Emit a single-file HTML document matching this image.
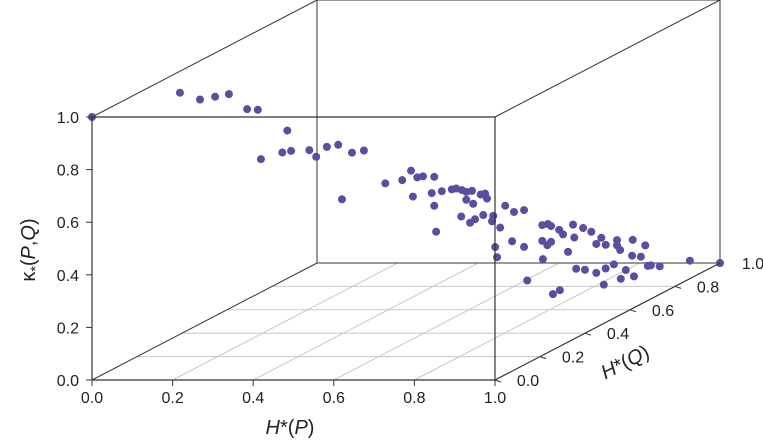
<!DOCTYPE html>
<html><head><meta charset="utf-8"><style>
html,body{margin:0;padding:0;background:#fff;}
svg{display:block;font-family:"Liberation Sans",Arial,sans-serif;}
</style></head><body>
<svg id="chart" width="763" height="442" viewBox="0 0 763 442"></svg>
<script>
const xTicks=[0,0.2,0.4,0.6,0.8,1.0];
const yTicks=[0,0.2,0.4,0.6,0.8,1.0];
const zTicks=[0,0.2,0.4,0.6,0.8,1.0];
const tickLabels=["0.0","0.2","0.4","0.6","0.8","1.0"];
const hP=[0,.14,.172,.196,.218,.247,.264,.311,.269,.303,.317,.346,.357,.374,.392,.414,.433,.398,.467,.494,.508,.518,.527,.545,.511,.541,.557,.573,.58,.589,.596,.605,.619,.626,.629,.545,.596,.607,.588,.61,.623,.639,.658,.672,.688,.548,.602,.637,.65,.717,.726,.731,.766,.782,.744,.75,.768,.795,.811,.836,.861,.881,.645,.688,.717,.725,.731,.758,.803,.818,.836,.841,.86,.874,.89,.904,.952,1,.718,.771,.803,.785,.818,.831,.85,.863,.885,.693,.815,.842,.734,.745,.669,.642];
const hQ=[0,.14,.172,.196,.218,.247,.264,.311,.269,.303,.317,.346,.357,.374,.392,.414,.433,.398,.467,.494,.508,.518,.527,.545,.511,.541,.557,.573,.58,.589,.596,.605,.619,.626,.629,.545,.596,.607,.588,.61,.623,.639,.658,.672,.688,.548,.602,.637,.65,.717,.726,.731,.766,.782,.744,.75,.768,.795,.811,.836,.861,.881,.645,.688,.717,.725,.731,.758,.803,.818,.836,.841,.86,.874,.89,.904,.952,1,.718,.771,.803,.785,.818,.831,.85,.863,.885,.693,.815,.842,.734,.745,.669,.642];
const kappa=[1,1.03,.99,.99,.99,.92,.91,.81,.72,.73,.73,.72,.69,.72,.72,.68,.68,.51,.54,.54,.57,.54,.54,.53,.47,.47,.47,.47,.47,.46,.45,.45,.43,.43,.41,.42,.42,.40,.36,.34,.35,.34,.37,.34,.34,.32,.33,.32,.29,.27,.27,.26,.25,.23,.24,.22,.20,.21,.18,.16,.15,.12,.18,.20,.21,.19,.20,.15,.16,.15,.14,.12,.09,.08,.04,.03,.03,0,.14,.08,.05,.07,.06,.07,.04,.01,.04,.07,0,.01,0,.01,.23,.22];

const NS="http://www.w3.org/2000/svg";
const svg=document.getElementById('chart');
function px(x,y,z){return [92+403*x+225*y, 380-263*z-117*y];}
function mk(tag,attrs,parent){const e=document.createElementNS(NS,tag);for(const k in attrs)e.setAttribute(k,attrs[k]);(parent||svg).appendChild(e);return e;}
function line(a,b,stroke,w,name){const e=mk('line',{x1:a[0],y1:a[1],x2:b[0],y2:b[1],stroke:stroke,'stroke-width':w});


return e;}
function text(x,y,s,anchor,name,size){const e=mk('text',{x:x,y:y,'text-anchor':anchor,'font-size':size||16,fill:'#222'});e.textContent=s;


return e;}

xTicks.forEach((t,i)=>{ if(i>0&&i<5) line(px(t,0,0),px(t,1,0),'#c8c8c8',1,'floor-grid-x'); });
yTicks.forEach((t,i)=>{ if(i>0&&i<5) line(px(0,t,0),px(1,t,0),'#c8c8c8',1,'floor-grid-y'); });
const E=[[[0,1,0],[1,1,0]],[[0,1,0],[0,1,1]],[[0,1,1],[1,1,1]],[[1,1,1],[1,1,0]],[[0,0,0],[0,1,0]],[[0,0,1],[0,1,1]],[[1,0,1],[1,1,1]]];
E.forEach(e=>line(px(...e[0]),px(...e[1]),'#333',1,'box-edge'));
for(let i=0;i<hP.length;i++){const p=px(hP[i],hQ[i],kappa[i]);
const c=mk('circle',{cx:p[0],cy:p[1],r:4,fill:'#5a4ea0'});

}
const F=[[[0,0,0],[1,0,0]],[[0,0,0],[0,0,1]],[[0,0,1],[1,0,1]],[[1,0,0],[1,0,1]],[[1,0,0],[1,1,0]]];
F.forEach(e=>line(px(...e[0]),px(...e[1]),'#333',1.2,'box-edge'));
xTicks.forEach((t,i)=>{const p=px(t,0,0);line(p,[p[0],p[1]+6],'#333',1,'x-tick');text(p[0],p[1]+23,tickLabels[i],'middle','x-tick-label');});
zTicks.forEach((t,i)=>{const p=px(0,0,t);line(p,[p[0]-6,p[1]],'#333',1,'z-tick');text(p[0]-13,p[1]+6,tickLabels[i],'end','z-tick-label');});
yTicks.forEach((t,i)=>{const p=px(1,t,0);if(i<5)line(p,[p[0]+6,p[1]+2],'#333',1,'y-tick');text(p[0]+33,p[1]+6,tickLabels[i],'middle','y-tick-label');});
const tx=text(290,434,'','middle','x-axis-title',20);
tx.innerHTML='<tspan font-style="italic">H</tspan>*(<tspan font-style="italic">P</tspan>)';
const tz=text(0,0,'','middle','z-axis-title',20);
tz.setAttribute('transform','translate(35,250) rotate(-90)');
tz.innerHTML='κ<tspan font-size="14" dy="5">*</tspan><tspan dy="-5">(</tspan><tspan font-style="italic">P</tspan>,<tspan font-style="italic">Q</tspan>)';
const ty=text(0,0,'','middle','y-axis-title',20);
ty.setAttribute('transform','translate(628,368) rotate(-27)');
ty.innerHTML='<tspan font-style="italic">H</tspan>*(<tspan font-style="italic">Q</tspan>)';
</script>
</body></html>
